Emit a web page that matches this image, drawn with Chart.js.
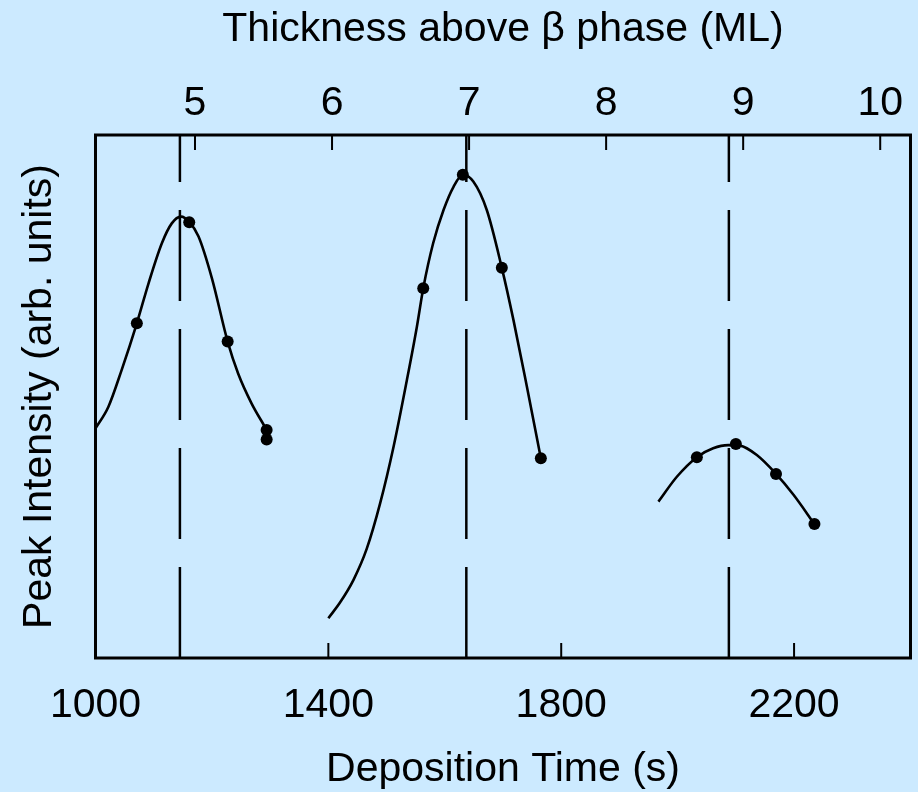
<!DOCTYPE html>
<html>
<head>
<meta charset="utf-8">
<title>Peak intensity vs deposition time</title>
<script src="https://cdn.jsdelivr.net/npm/chart.js@4/dist/chart.umd.min.js"></script>
<style>
  html, body { margin: 0; padding: 0; background: #cceaff; }
  #wrap { width: 918px; height: 792px; }
</style>
</head>
<body>
<div id="wrap"><canvas id="peakChart" width="918" height="792"></canvas></div>
<script>
// Fitted peak profiles: deposition time (s) and intensity (arb. units)
const fit1Time = [1000, 1022, 1045, 1071, 1091, 1114, 1131, 1147, 1161, 1177, 1200, 1227, 1245, 1268, 1291];
const fit1Int = [43.9, 48.0, 55.1, 64.0, 71.6, 79.3, 83.1, 84.4, 83.4, 80.6, 72.6, 60.5, 54.4, 48.7, 44.2];

const fit2Time = [1400, 1420, 1443, 1466, 1489, 1512, 1535, 1552, 1563, 1580, 1598, 1615, 1631, 1649, 1672, 1698, 1718, 1741, 1765];
const fit2Int = [7.6, 10.6, 14.9, 20.9, 29.6, 40.4, 53.2, 63.3, 70.7, 79.3, 85.7, 90.1, 92.4, 91.1, 85.7, 74.6, 64.6, 51.9, 38.2];

const fit3Time = [1967, 1999, 2033, 2061, 2087, 2107, 2136, 2169, 2199, 2235];
const fit3Int = [29.9, 34.7, 38.4, 40.1, 40.7, 40.6, 38.8, 35.2, 31.2, 25.6];

// Measured points
const dotTime = [1071, 1161, 1227, 1294, 1294, 1563, 1631, 1698, 1765, 2033, 2100, 2169, 2235];
const dotInt = [64.0, 83.3, 60.5, 43.6, 41.8, 70.7, 92.4, 74.6, 38.2, 38.4, 40.9, 35.2, 25.6];

// Peak positions (dashed markers), in s
const markerTimes = [1145, 1637, 2088];

// Axis ticks
const timeTicks = [1000, 1400, 1800, 2200];
const mlTicks = [5, 6, 7, 8, 9, 10];
const timeMin = 1000, timeMax = 2400;
const mlMin = 4.274, mlMax = 10.221;

Chart.defaults.font.family = '"Liberation Sans", Arial, Helvetica, sans-serif';
Chart.defaults.color = '#000';

const toXY = (t, v) => t.map((x, i) => ({ x, y: v[i] }));

// box around the plot and inward tick marks
const frameAndTicks = {
  id: 'frameAndTicks',
  afterDatasetsDraw(chart) {
    const { ctx, chartArea: a, scales } = chart;
    ctx.save();
    ctx.strokeStyle = '#000';
    ctx.lineWidth = 2;
    ctx.beginPath();
    timeTicks.forEach(v => {
      const x = scales.x.getPixelForValue(v);
      ctx.moveTo(x, a.bottom);
      ctx.lineTo(x, a.bottom - 15);
    });
    mlTicks.forEach(v => {
      const x = scales.x2.getPixelForValue(v);
      ctx.moveTo(x, a.top);
      ctx.lineTo(x, a.top + 15);
    });
    ctx.stroke();
    ctx.lineWidth = 3;
    ctx.strokeRect(a.left, a.top, a.right - a.left, a.bottom - a.top);
    ctx.restore();
  }
};

const markerSets = markerTimes.map(t => ({
  data: [{ x: t, y: 0 }, { x: t, y: 100 }],
  showLine: true,
  borderColor: '#000',
  borderWidth: 2.5,
  borderDash: [91, 28],
  pointRadius: 0
}));

const fitStyle = {
  showLine: true,
  borderColor: '#000',
  borderWidth: 2.6,
  pointRadius: 0,
  cubicInterpolationMode: 'monotone'
};

const plainNumber = v => String(v);

const ctx = document.getElementById('peakChart').getContext('2d');
const peakChart = new Chart(ctx, {
  type: 'scatter',
  data: {
    datasets: [
      ...markerSets,
      { ...fitStyle, data: toXY(fit1Time, fit1Int) },
      { ...fitStyle, data: toXY(fit2Time, fit2Int) },
      { ...fitStyle, data: toXY(fit3Time, fit3Int) },
      {
        data: toXY(dotTime, dotInt),
        showLine: false,
        backgroundColor: '#000',
        borderColor: '#000',
        borderWidth: 0,
        pointRadius: 6
      }
    ]
  },
  options: {
    responsive: false,
    animation: false,
    events: [],
    layout: { padding: { left: 0, top: 0, bottom: 0, right: 7.5 } },
    plugins: {
      legend: { display: false },
      tooltip: { enabled: false }
    },
    scales: {
      x: {
        type: 'linear',
        position: 'bottom',
        min: timeMin,
        max: timeMax,
        afterBuildTicks: s => { s.ticks = timeTicks.map(value => ({ value })); },
        afterFit: s => { s.height = 134; },
        grid: { display: false, drawTicks: false },
        border: { display: false },
        ticks: { font: { size: 41 }, padding: 23, maxRotation: 0, autoSkip: false, callback: plainNumber },
        title: {
          display: true,
          text: 'Deposition Time (s)',
          font: { size: 41, lineHeight: 1 },
          padding: { top: 0, bottom: 2 }
        }
      },
      x2: {
        type: 'linear',
        position: 'top',
        min: mlMin,
        max: mlMax,
        afterBuildTicks: s => { s.ticks = mlTicks.map(value => ({ value })); },
        afterFit: s => { s.height = 135; },
        grid: { display: false, drawTicks: false },
        border: { display: false },
        ticks: { font: { size: 41 }, padding: 7, maxRotation: 0, autoSkip: false, callback: plainNumber },
        title: {
          display: true,
          text: 'Thickness above β phase (ML)',
          font: { size: 41, lineHeight: 1 },
          padding: { top: 9.5, bottom: 0 }
        }
      },
      y: {
        position: 'left',
        min: 0,
        max: 100,
        afterFit: s => { s.width = 95.5; },
        grid: { display: false, drawTicks: false },
        border: { display: false },
        ticks: { display: false },
        title: {
          display: true,
          text: 'Peak Intensity (arb. units)',
          font: { size: 41, lineHeight: 1 },
          padding: { top: 19.5, bottom: 0 }
        }
      }
    }
  },
  plugins: [frameAndTicks]
});
</script>
</body>
</html>
